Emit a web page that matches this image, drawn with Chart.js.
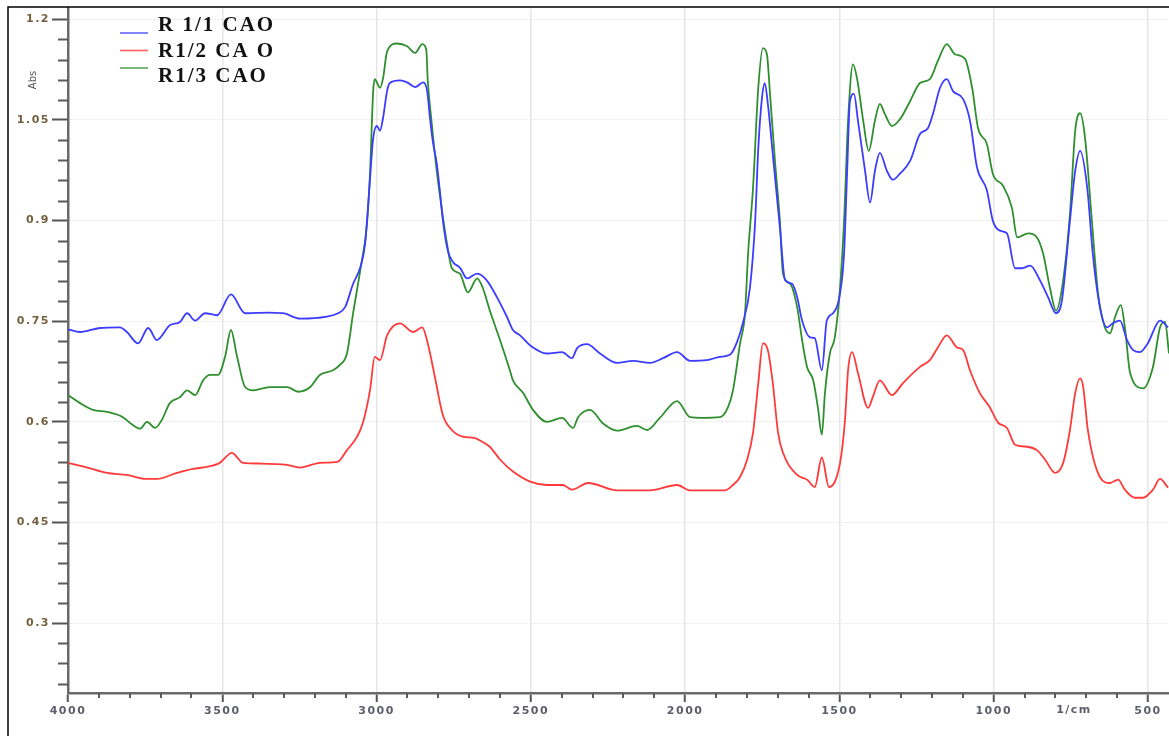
<!DOCTYPE html>
<html lang="en">
<head>
<meta charset="UTF-8">
<title>FTIR spectra</title>
<script src="https://cdn.jsdelivr.net/npm/chart.js@4.4.1/dist/chart.umd.min.js"></script>
<style>
  html, body { margin: 0; padding: 0; background: #fff; }
  canvas { display: block; }
</style>
</head>
<body>
<canvas id="spectra" width="1169" height="736"></canvas>
<script>
// wavenumber (1/cm) and absorbance for each sample
const r11Wave = [4000, 3961, 3897, 3832, 3809, 3773, 3740, 3712, 3670, 3637, 3614, 3588, 3556, 3517, 3472, 3426, 3355, 3303, 3248, 3161, 3125, 3102, 3076, 3053, 3037, 3027, 3021, 3011, 2999, 2989, 2979, 2966, 2957, 2924, 2901, 2875, 2849, 2836, 2827, 2818, 2805, 2795, 2785, 2769, 2752, 2730, 2707, 2674, 2643, 2610, 2577, 2558, 2535, 2502, 2448, 2399, 2367, 2350, 2318, 2276, 2221, 2169, 2114, 2072, 2026, 1984, 1930, 1887, 1855, 1832, 1812, 1790, 1773, 1763, 1751, 1742, 1732, 1716, 1693, 1676, 1654, 1637, 1621, 1595, 1580, 1557, 1541, 1521, 1498, 1485, 1475, 1466, 1453, 1440, 1417, 1401, 1385, 1369, 1346, 1327, 1304, 1271, 1239, 1213, 1197, 1174, 1152, 1132, 1099, 1077, 1054, 1022, 1003, 980, 957, 931, 908, 882, 850, 824, 798, 779, 753, 736, 720, 697, 679, 656, 633, 614, 591, 568, 548, 526, 501, 461, 435];
const r11Abs = [0.738, 0.734, 0.740, 0.741, 0.734, 0.717, 0.740, 0.722, 0.744, 0.749, 0.762, 0.751, 0.762, 0.759, 0.790, 0.762, 0.763, 0.762, 0.754, 0.757, 0.762, 0.771, 0.806, 0.830, 0.866, 0.925, 0.964, 1.023, 1.041, 1.034, 1.053, 1.093, 1.105, 1.109, 1.106, 1.099, 1.106, 1.093, 1.053, 1.019, 0.985, 0.945, 0.900, 0.855, 0.838, 0.830, 0.814, 0.821, 0.811, 0.786, 0.756, 0.737, 0.729, 0.714, 0.702, 0.704, 0.695, 0.710, 0.716, 0.702, 0.688, 0.691, 0.688, 0.695, 0.704, 0.691, 0.692, 0.697, 0.700, 0.719, 0.749, 0.800, 0.900, 1.008, 1.083, 1.105, 1.074, 0.999, 0.890, 0.811, 0.806, 0.786, 0.751, 0.726, 0.725, 0.677, 0.751, 0.762, 0.792, 0.851, 0.974, 1.078, 1.089, 1.049, 0.974, 0.927, 0.974, 1.001, 0.974, 0.961, 0.970, 0.989, 1.029, 1.038, 1.059, 1.098, 1.111, 1.093, 1.081, 1.049, 0.979, 0.945, 0.900, 0.885, 0.881, 0.829, 0.829, 0.833, 0.811, 0.786, 0.762, 0.781, 0.900, 0.974, 1.004, 0.949, 0.851, 0.771, 0.741, 0.747, 0.751, 0.722, 0.707, 0.704, 0.717, 0.751, 0.741];

const r12Wave = [4000, 3938, 3874, 3809, 3744, 3712, 3647, 3595, 3550, 3508, 3469, 3433, 3377, 3290, 3248, 3184, 3125, 3096, 3063, 3044, 3021, 3006, 2989, 2966, 2924, 2882, 2852, 2834, 2811, 2785, 2756, 2720, 2681, 2656, 2633, 2600, 2558, 2502, 2448, 2396, 2367, 2314, 2221, 2114, 2026, 1984, 1871, 1845, 1822, 1799, 1780, 1763, 1748, 1732, 1716, 1699, 1683, 1637, 1605, 1580, 1557, 1534, 1498, 1482, 1472, 1459, 1440, 1407, 1392, 1369, 1330, 1294, 1239, 1207, 1181, 1152, 1119, 1099, 1077, 1045, 1013, 986, 957, 931, 892, 860, 834, 801, 775, 753, 736, 720, 710, 695, 656, 623, 597, 575, 542, 516, 484, 461, 435];
const r12Abs = [0.539, 0.532, 0.524, 0.521, 0.515, 0.515, 0.524, 0.530, 0.533, 0.539, 0.554, 0.539, 0.538, 0.536, 0.532, 0.539, 0.541, 0.558, 0.578, 0.599, 0.648, 0.697, 0.692, 0.729, 0.747, 0.734, 0.741, 0.717, 0.667, 0.610, 0.588, 0.578, 0.576, 0.570, 0.563, 0.544, 0.526, 0.511, 0.506, 0.506, 0.499, 0.509, 0.498, 0.498, 0.506, 0.498, 0.498, 0.506, 0.518, 0.544, 0.584, 0.658, 0.717, 0.707, 0.658, 0.584, 0.554, 0.521, 0.514, 0.503, 0.547, 0.503, 0.539, 0.603, 0.677, 0.704, 0.673, 0.621, 0.637, 0.662, 0.640, 0.658, 0.682, 0.692, 0.711, 0.729, 0.711, 0.707, 0.677, 0.643, 0.622, 0.599, 0.591, 0.566, 0.563, 0.558, 0.544, 0.524, 0.539, 0.588, 0.643, 0.665, 0.652, 0.588, 0.518, 0.509, 0.514, 0.499, 0.487, 0.487, 0.499, 0.515, 0.502];

const r13Wave = [4000, 3961, 3919, 3874, 3822, 3792, 3766, 3744, 3718, 3696, 3670, 3637, 3614, 3588, 3562, 3540, 3514, 3491, 3472, 3452, 3426, 3400, 3346, 3290, 3254, 3215, 3184, 3141, 3119, 3096, 3076, 3053, 3031, 3021, 3011, 3006, 2989, 2979, 2966, 2934, 2901, 2875, 2852, 2839, 2834, 2821, 2805, 2788, 2772, 2756, 2730, 2704, 2674, 2656, 2633, 2600, 2568, 2558, 2525, 2493, 2448, 2399, 2363, 2347, 2308, 2267, 2221, 2156, 2123, 2082, 2026, 1984, 1943, 1887, 1861, 1845, 1822, 1806, 1796, 1780, 1763, 1748, 1735, 1725, 1709, 1693, 1683, 1660, 1637, 1621, 1605, 1585, 1570, 1557, 1547, 1531, 1515, 1498, 1485, 1472, 1456, 1443, 1423, 1405, 1385, 1369, 1353, 1330, 1304, 1271, 1239, 1207, 1181, 1152, 1126, 1093, 1070, 1051, 1022, 1003, 970, 941, 924, 888, 860, 840, 818, 798, 775, 753, 736, 720, 704, 682, 662, 640, 623, 607, 588, 575, 558, 516, 484, 461, 445, 432];
const r13Abs = [0.640, 0.628, 0.618, 0.615, 0.607, 0.596, 0.590, 0.600, 0.591, 0.603, 0.628, 0.637, 0.647, 0.640, 0.662, 0.670, 0.670, 0.697, 0.737, 0.697, 0.652, 0.647, 0.652, 0.652, 0.645, 0.652, 0.670, 0.677, 0.685, 0.702, 0.762, 0.826, 0.896, 0.974, 1.093, 1.111, 1.098, 1.112, 1.152, 1.164, 1.160, 1.150, 1.163, 1.155, 1.108, 1.044, 0.974, 0.915, 0.866, 0.829, 0.821, 0.793, 0.814, 0.800, 0.766, 0.722, 0.677, 0.662, 0.643, 0.618, 0.600, 0.606, 0.591, 0.607, 0.618, 0.598, 0.587, 0.594, 0.588, 0.606, 0.631, 0.607, 0.606, 0.607, 0.622, 0.647, 0.717, 0.762, 0.851, 0.949, 1.098, 1.157, 1.148, 1.089, 0.989, 0.900, 0.821, 0.806, 0.771, 0.722, 0.682, 0.662, 0.622, 0.581, 0.643, 0.702, 0.726, 0.800, 0.900, 1.049, 1.133, 1.112, 1.049, 1.004, 1.049, 1.074, 1.059, 1.041, 1.051, 1.078, 1.105, 1.111, 1.138, 1.163, 1.148, 1.141, 1.098, 1.038, 1.014, 0.970, 0.952, 0.919, 0.875, 0.881, 0.875, 0.851, 0.800, 0.766, 0.811, 0.910, 1.034, 1.060, 1.023, 0.900, 0.792, 0.741, 0.732, 0.756, 0.774, 0.741, 0.673, 0.650, 0.682, 0.741, 0.749, 0.702];

const seriesNames = ['R 1/1 CAO', 'R1/2 CA O', 'R1/3 CAO'];
const seriesColors = ['#3c3cff', '#ff3a3a', '#2f8f2f'];
const waveTicks = [4000, 3500, 3000, 2500, 2000, 1500, 1000, 500];
const absTicks = [0.3, 0.45, 0.6, 0.75, 0.9, 1.05, 1.2];

const toPoints = (wave, abs) => wave.map((w, i) => ({ x: w, y: abs[i] }));
const series = [toPoints(r11Wave, r11Abs), toPoints(r12Wave, r12Abs), toPoints(r13Wave, r13Abs)];

const tickFont = { family: 'DejaVu Sans', size: 11, weight: 'bold' };

// frame, minor ticks, axis captions and the legend box
const decorations = {
  id: 'decorations',
  beforeDraw(chart) {
    chart.ctx.letterSpacing = '1.5px';
  },
  afterDraw(chart) {
    const { ctx, chartArea: a, scales: { x, y } } = chart;
    ctx.save();
    ctx.letterSpacing = '0px';

    // minor ticks
    ctx.strokeStyle = '#5a5a5a';
    ctx.lineWidth = 2;
    ctx.beginPath();
    for (let w = 3900; w >= 500; w -= 100) {
      if (w % 500 === 0) continue;
      const px = Math.round(x.getPixelForValue(w));
      ctx.moveTo(px, a.bottom);
      ctx.lineTo(px, a.bottom + 5);
    }
    for (let k = 7; k <= 40; k++) {
      if (k % 5 === 0) continue;
      const py = Math.round(y.getPixelForValue(k * 0.03)) + 0.5;
      ctx.moveTo(a.left - 10, py);
      ctx.lineTo(a.left, py);
    }
    ctx.stroke();

    // outer frame
    ctx.strokeStyle = '#000';
    ctx.lineWidth = 1.5;
    ctx.beginPath();
    ctx.moveTo(8, chart.height);
    ctx.lineTo(8, 7);
    ctx.lineTo(chart.width, 7);
    ctx.stroke();

    // unit caption on the x axis
    ctx.letterSpacing = '1.5px';
    ctx.font = 'bold 11px "DejaVu Sans"';
    ctx.fillStyle = '#5c5c6c';
    ctx.textAlign = 'center';
    ctx.textBaseline = 'middle';
    ctx.fillText('1/cm', x.getPixelForValue(740), a.bottom + 17);

    // y axis caption
    ctx.letterSpacing = '0px';
    ctx.save();
    ctx.translate(33, 80);
    ctx.rotate(-Math.PI / 2);
    ctx.font = '10px "DejaVu Sans"';
    ctx.fillStyle = '#555';
    ctx.fillText('Abs', 0, 0);
    ctx.restore();

    // legend
    ctx.textAlign = 'left';
    ctx.font = 'bold 21px "Liberation Serif"';
    ctx.letterSpacing = '2px';
    ctx.lineWidth = 1.6;
    seriesNames.forEach((name, i) => {
      const lineY = 33 + i * 17.5;
      ctx.strokeStyle = seriesColors[i];
      ctx.globalAlpha = 0.8;
      ctx.beginPath();
      ctx.moveTo(120, lineY);
      ctx.lineTo(148, lineY);
      ctx.stroke();
      ctx.globalAlpha = 1;
      ctx.fillStyle = '#111';
      ctx.fillText(name, 158, 26 + i * 25.5);
    });
    ctx.restore();
  }
};

new Chart(document.getElementById('spectra'), {
  type: 'line',
  data: {
    datasets: series.map((data, i) => ({
      label: seriesNames[i],
      data,
      borderColor: seriesColors[i],
      borderWidth: 1.8,
      pointRadius: 0,
      fill: false,
      cubicInterpolationMode: 'monotone'
    }))
  },
  options: {
    responsive: false,
    animation: false,
    layout: { padding: { top: 7, left: 0, right: 0, bottom: 0 } },
    plugins: { legend: { display: false }, tooltip: { enabled: false } },
    scales: {
      x: {
        type: 'linear',
        reverse: true,
        min: 432,
        max: 4000,
        afterBuildTicks: s => { s.ticks = waveTicks.map(v => ({ value: v })); },
        afterFit: s => { s.height = 43; },
        grid: { color: '#e6e6e6', lineWidth: 1.5, tickColor: '#555', tickLength: 9, tickWidth: 2 },
        border: { color: '#6a6a6a', width: 2.5 },
        ticks: {
          color: '#5c5c6c',
          font: tickFont,
          padding: 3,
          maxRotation: 0,
          autoSkip: false,
          callback: v => String(v)
        }
      },
      y: {
        min: 0.196,
        max: 1.216,
        afterBuildTicks: s => { s.ticks = absTicks.map(v => ({ value: v })); },
        afterFit: s => { s.width = 68; },
        grid: { color: '#e4e4e4', lineWidth: 1, tickColor: '#555', tickLength: 16, tickWidth: 2 },
        border: { color: '#6a6a6a', width: 2.5, dash: [2, 2] },
        ticks: {
          color: '#74603e',
          font: tickFont,
          padding: 2,
          callback: v => String(+v.toFixed(2))
        }
      }
    }
  },
  plugins: [decorations]
});
</script>
</body>
</html>
